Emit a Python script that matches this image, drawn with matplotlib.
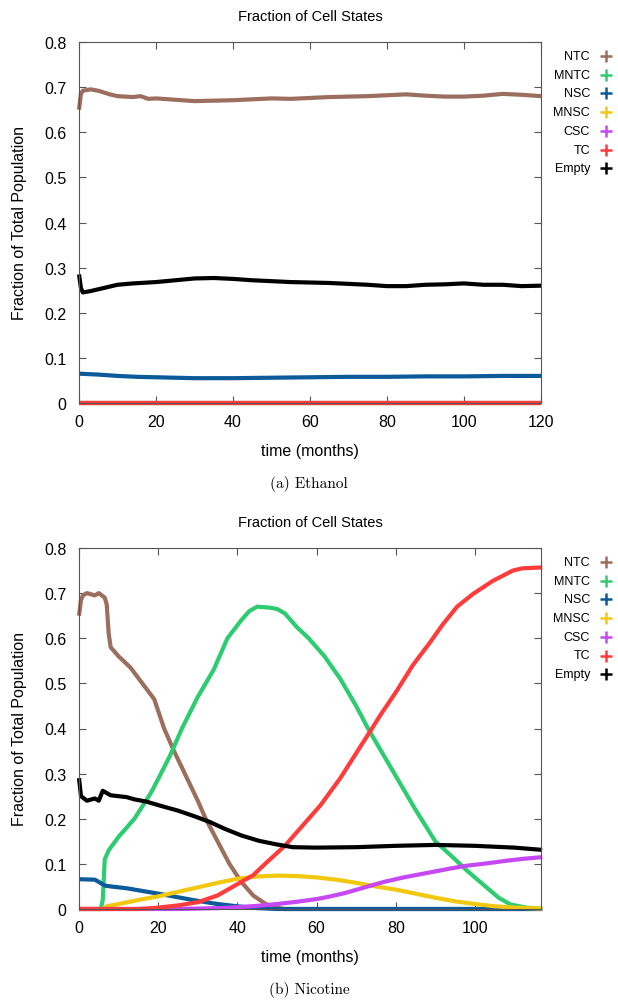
import matplotlib
matplotlib.use("Agg")
import matplotlib.pyplot as plt

plt.rcParams["font.family"] = ["Liberation Sans", "DejaVu Sans"]

states = ["NTC", "MNTC", "NSC", "MNSC", "CSC", "TC", "Empty"]
colors = ["#9b6e5e", "#2ecc71", "#0b5a9a", "#f2c80f", "#c648f5", "#ff3b3b", "#000000"]

# (a) Ethanol
eth_ntc_t = [0, 0.5, 1, 3, 5, 8, 10, 14, 16, 18, 20, 25, 30, 35, 40, 45, 50, 55, 60, 65, 70, 75, 80, 85, 90, 95, 100, 105, 110, 115, 120]
eth_ntc = [0.65, 0.685, 0.692, 0.695, 0.692, 0.684, 0.68, 0.678, 0.68, 0.674, 0.675, 0.672, 0.669, 0.67, 0.671, 0.673, 0.675, 0.674, 0.676, 0.678, 0.679, 0.68, 0.682, 0.684, 0.681, 0.679, 0.679, 0.681, 0.685, 0.683, 0.68]
eth_empty_t = [0, 0.5, 1, 3, 5, 8, 10, 14, 20, 25, 30, 35, 40, 45, 50, 55, 60, 65, 70, 75, 80, 85, 90, 95, 100, 105, 110, 115, 120]
eth_empty = [0.285, 0.255, 0.245, 0.248, 0.252, 0.258, 0.262, 0.265, 0.268, 0.272, 0.276, 0.277, 0.275, 0.272, 0.27, 0.268, 0.267, 0.266, 0.264, 0.262, 0.259, 0.259, 0.262, 0.263, 0.265, 0.262, 0.262, 0.259, 0.26]
eth_nsc_t = [0, 5, 10, 15, 20, 25, 30, 40, 50, 60, 70, 80, 90, 100, 110, 120]
eth_nsc = [0.065, 0.063, 0.06, 0.058, 0.057, 0.056, 0.055, 0.055, 0.056, 0.057, 0.058, 0.058, 0.059, 0.059, 0.06, 0.06]
eth_zero_t = [0, 120]
eth_zero = [0.0, 0.0]

# (b) Nicotine
nic_ntc_t = [0, 0.5, 1, 2, 4, 5, 6.5, 7, 7.5, 8, 10, 13, 16, 19, 21.5, 24, 27, 30, 32, 35, 38, 41, 44, 47, 49, 52, 117]
nic_ntc = [0.65, 0.685, 0.695, 0.7, 0.695, 0.7, 0.69, 0.675, 0.61, 0.58, 0.56, 0.535, 0.5, 0.465, 0.4, 0.35, 0.295, 0.24, 0.2, 0.15, 0.1, 0.06, 0.03, 0.012, 0.004, 0.0, 0.0]
nic_mntc_t = [0, 5.5, 6, 6.5, 7.5, 10, 14, 18, 20, 23, 26, 30, 34, 37.5, 41, 43, 45, 48, 50, 52, 55, 58, 62, 66, 70, 73, 77, 81, 85, 90, 95, 98, 102, 106, 109, 113, 117]
nic_mntc = [0.0, 0.0, 0.02, 0.11, 0.13, 0.16, 0.2, 0.255, 0.288, 0.34, 0.4, 0.47, 0.53, 0.6, 0.64, 0.66, 0.67, 0.668, 0.665, 0.655, 0.625, 0.6, 0.56, 0.51, 0.45, 0.4, 0.34, 0.28, 0.22, 0.15, 0.11, 0.085, 0.055, 0.025, 0.01, 0.003, 0.0]
nic_nsc_t = [0, 4, 5, 6.5, 8, 12, 16, 20, 25, 30, 35, 40, 45, 50, 117]
nic_nsc = [0.066, 0.065, 0.06, 0.052, 0.05, 0.046, 0.04, 0.034, 0.026, 0.018, 0.011, 0.006, 0.002, 0.0, 0.0]
nic_mnsc_t = [0, 6, 7, 10, 15, 20, 25, 30, 35, 40, 45, 50, 55, 60, 65, 70, 75, 80, 85, 90, 95, 100, 105, 110, 117]
nic_mnsc = [0.0, 0.0, 0.006, 0.011, 0.02, 0.028, 0.038, 0.048, 0.058, 0.067, 0.072, 0.074, 0.073, 0.07, 0.065, 0.058, 0.05, 0.043, 0.034, 0.025, 0.017, 0.011, 0.006, 0.003, 0.001]
nic_csc_t = [0, 25, 30, 35, 40, 45, 50, 55, 60, 63, 67, 73, 77, 82, 88, 94, 98, 102, 108, 112, 117]
nic_csc = [0.0, 0.0, 0.001, 0.002, 0.004, 0.007, 0.011, 0.016, 0.022, 0.027, 0.035, 0.05, 0.06, 0.07, 0.08, 0.09, 0.096, 0.1, 0.107, 0.111, 0.115]
nic_tc_t = [0, 15, 20, 25, 30, 35, 40, 44, 47, 52, 56, 61, 66, 70, 74, 76, 80.3, 84.3, 88.6, 92, 95.5, 99.5, 104.5, 109.6, 112, 117]
nic_tc = [0.0, 0.0, 0.003, 0.008, 0.015, 0.03, 0.055, 0.075, 0.1, 0.14, 0.18, 0.23, 0.29, 0.345, 0.4, 0.428, 0.484, 0.54, 0.59, 0.632, 0.67, 0.698, 0.727, 0.75, 0.755, 0.757]
nic_empty_t = [0, 0.5, 2, 4, 5, 6, 8, 12, 14, 17, 20.5, 25, 29, 33, 37, 41, 45.5, 50, 54, 60, 70, 80, 90, 100, 110, 117]
nic_empty = [0.29, 0.25, 0.24, 0.245, 0.24, 0.262, 0.252, 0.248, 0.243, 0.238, 0.229, 0.218, 0.206, 0.193, 0.177, 0.163, 0.151, 0.143, 0.137, 0.136, 0.137, 0.14, 0.142, 0.14, 0.136, 0.131]

ethanol = [(eth_ntc_t, eth_ntc), (eth_zero_t, eth_zero), (eth_nsc_t, eth_nsc),
           (eth_zero_t, eth_zero), (eth_zero_t, eth_zero), (eth_zero_t, eth_zero),
           (eth_empty_t, eth_empty)]
nicotine = [(nic_ntc_t, nic_ntc), (nic_mntc_t, nic_mntc), (nic_nsc_t, nic_nsc),
            (nic_mnsc_t, nic_mnsc), (nic_csc_t, nic_csc), (nic_tc_t, nic_tc),
            (nic_empty_t, nic_empty)]

fig = plt.figure(figsize=(6.18, 10.03), dpi=100)
W, H = 618, 1003


def panel(top_px, series, xmax, xticks, caption):
    ax = fig.add_axes([79 / W, 1 - (top_px + 361) / H, 462 / W, 361 / H])
    for (t, v), c in zip(series, colors):
        ax.plot(t, v, color=c, lw=3.0, solid_capstyle="butt", clip_on=False)
    ax.set_xlim(0, xmax)
    ax.set_ylim(0, 0.8)
    ax.set_xticks(xticks)
    ax.set_yticks([i / 10 for i in range(9)])
    ax.set_yticklabels(["0"] + ["0.%d" % i for i in range(1, 9)])
    ax.tick_params(direction="in", top=True, right=True, length=5, width=0.8,
                   labelsize=11.5, color="#555555")
    ax.tick_params(axis="x", pad=8)
    ax.tick_params(axis="y", pad=9)
    for s in ax.spines.values():
        s.set_color("#555555")
        s.set_linewidth(0.8)
        s.set_zorder(5)
    ax.set_title("Fraction of Cell States", fontsize=10.5, pad=16)
    ax.set_xlabel("time (months)", fontsize=11.5, labelpad=10)
    ax.set_ylabel("Fraction of Total Population", fontsize=11.5, labelpad=12)
    for i, (name, c) in enumerate(zip(states, colors)):
        y = (404 - 57 - i * 18.7) / 361
        ax.text(1.106, y, name, transform=ax.transAxes, ha="right", va="center", fontsize=9)
        ax.plot([1.141], [y], marker="+", ms=9, mew=1.8, color=c,
                transform=ax.transAxes, clip_on=False)
    fig.text(0.5, 1 - (top_px + 441) / H, caption, ha="center", va="center",
             fontsize=11, family="cmr10")
    return ax


panel(43, ethanol, 120, [0, 20, 40, 60, 80, 100, 120], "(a) Ethanol")
panel(549, nicotine, 116.7, [0, 20, 40, 60, 80, 100], "(b) Nicotine")

fig.savefig("out.png", dpi=100)
